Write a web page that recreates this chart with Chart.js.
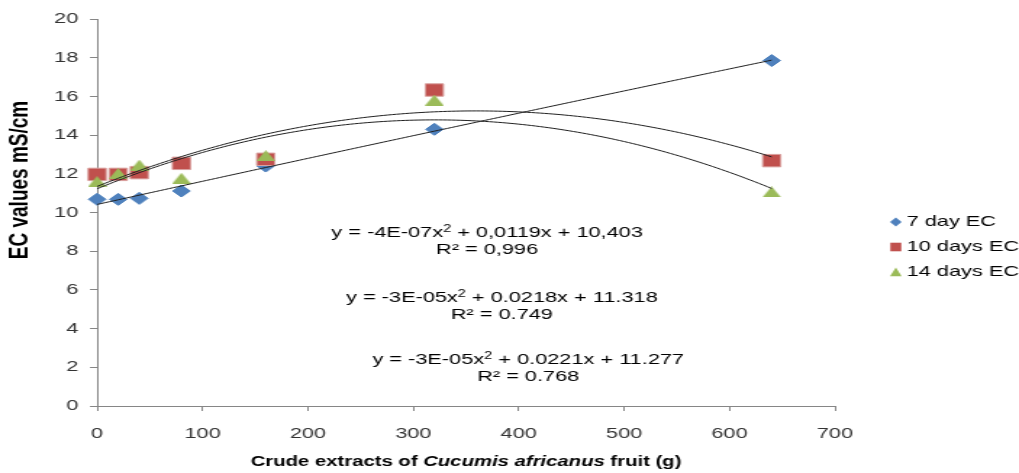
<!DOCTYPE html>
<html><head><meta charset="utf-8">
<script src="https://cdn.jsdelivr.net/npm/chart.js@4.4.1/dist/chart.umd.min.js"></script>
<style>
html,body{margin:0;padding:0;background:#fff;overflow:hidden;}
#c{display:block;width:1019px !important;height:473px !important;}
</style></head><body>
<canvas id="c" width="703" height="473" style="width:1019px;height:473px;display:block"></canvas>
<script>
// ---- data ----
const extractDoses = [0, 20, 40, 80, 160, 320, 640];
const ec7Days  = [10.68, 10.68, 10.73, 11.11, 12.40, 14.30, 17.85];
const ec10Days = [11.97, 11.97, 12.06, 12.54, 12.75, 16.33, 12.68];
const ec14Days = [11.60, 12.02, 12.45, 11.77, 12.94, 15.81, 11.06];
const seriesNames = ['7 day EC', '10 days EC', '14 days EC'];
const xTickValues = [0, 100, 200, 300, 400, 500, 600, 700];
const yTickValues = [0, 2, 4, 6, 8, 10, 12, 14, 16, 18, 20];
const equationParts = [
  ['y = -4E-07x', '2', ' + 0,0119x + 10,403'],
  ['y = -3E-05x', '2', ' + 0.0218x + 11.318'],
  ['y = -3E-05x', '2', ' + 0.0221x + 11.277']
];
const rSquaredTexts = ['R\u00B2 = 0,996', 'R\u00B2 = 0.749', 'R\u00B2 = 0.768'];
const xAxisTitleParts = [['Crude extracts of ', false], ['Cucumis africanus', true], [' fruit (g)', false]];
const yAxisTitle = 'EC values mS/cm';

// ---- styles ----
const COLORS = ['#4F81BD', '#C0504D', '#9BBB59'];
const BORDERS = ['#4A7EBB', '#D9A09E', '#9BBB59'];
const FONT = '"Liberation Sans", Arial, sans-serif';

// quadratic least squares fit derived from the data arrays
function fitQuadratic(xs, ys) {
  let S = [0,0,0,0,0], T = [0,0,0];
  for (let i = 0; i < xs.length; i++) {
    let p = 1;
    for (let k = 0; k < 5; k++) { S[k] += p; if (k < 3) T[k] += p * ys[i]; p *= xs[i]; }
  }
  const M = [[S[0],S[1],S[2],T[0]],[S[1],S[2],S[3],T[1]],[S[2],S[3],S[4],T[2]]];
  for (let c = 0; c < 3; c++) {
    for (let r = c + 1; r < 3; r++) {
      const f = M[r][c] / M[c][c];
      for (let k = c; k < 4; k++) M[r][k] -= f * M[c][k];
    }
  }
  const b = [0,0,0];
  for (let r = 2; r >= 0; r--) {
    let v = M[r][3];
    for (let k = r + 1; k < 3; k++) v -= M[r][k] * b[k];
    b[r] = v / M[r][r];
  }
  return b;
}
function trendPoints(xs, ys) {
  const b = fitQuadratic(xs, ys);
  const pts = [];
  const xmax = Math.max(...xs);
  for (let x = 0; x <= xmax; x += 4) pts.push({x, y: b[0] + b[1]*x + b[2]*x*x});
  return pts;
}

function triangleImage(w, h, fill) {
  const cv = document.createElement('canvas');
  cv.width = w; cv.height = h;
  const g = cv.getContext('2d');
  g.fillStyle = fill;
  g.beginPath(); g.moveTo(w/2, 0); g.lineTo(w, h); g.lineTo(0, h); g.closePath(); g.fill();
  return cv;
}

const seriesValues = [ec7Days, ec10Days, ec14Days];
const pointStyles = ['rectRot', 'rect', triangleImage(13, 11, COLORS[2])];
const pointRadii = [6, 8.8, 7];
const drawOrder = [3, 2, 1];

const datasets = [];
seriesValues.forEach((vals, i) => {
  datasets.push({
    type: 'scatter', label: seriesNames[i] + ' trend',
    data: trendPoints(extractDoses, vals),
    showLine: true, borderColor: '#1f1f1f', borderWidth: 1, pointRadius: 0,
    tension: 0, order: 0, clip: false
  });
});
seriesValues.forEach((vals, i) => {
  datasets.push({
    type: 'scatter', label: seriesNames[i],
    data: extractDoses.map((x, j) => ({x, y: vals[j]})),
    pointStyle: pointStyles[i], pointRadius: pointRadii[i],
    backgroundColor: COLORS[i], borderColor: BORDERS[i], borderWidth: 1,
    order: drawOrder[i], clip: false
  });
});

const overlay = {
  id: 'overlay',
  afterDraw(chart) {
    const ctx = chart.ctx, a = chart.chartArea;
    const xs = chart.scales.x, ys = chart.scales.y;
    ctx.save();
    ctx.fillStyle = '#000';
    // y axis title
    ctx.save();
    ctx.translate(13.8, 180);
    ctx.rotate(-Math.PI / 2);
    ctx.font = 'bold 19px ' + FONT;
    ctx.textAlign = 'center'; ctx.textBaseline = 'middle';
    ctx.fillText(yAxisTitle, 0, 0);
    ctx.restore();
    // x axis title (mixed italic)
    const fonts = xAxisTitleParts.map(p => (p[1] ? 'italic bold 14px ' : 'bold 14px ') + FONT);
    let total = 0;
    const widths = xAxisTitleParts.map((p, i) => { ctx.font = fonts[i]; const w = ctx.measureText(p[0]).width; total += w; return w; });
    let cx = (a.left + a.right) / 2 - total / 2;
    ctx.textBaseline = 'middle'; ctx.textAlign = 'left';
    xAxisTitleParts.forEach((p, i) => { ctx.font = fonts[i]; ctx.fillText(p[0], cx, 462); cx += widths[i]; });
    // equations (anchored in data units)
    const eqAnchors = [[370, 8.94, 8.06], [384, 5.58, 4.70], [409, 2.38, 1.50]];
    equationParts.forEach((parts, i) => {
      const px = xs.getPixelForValue(eqAnchors[i][0]);
      const py1 = ys.getPixelForValue(eqAnchors[i][1]);
      const py2 = ys.getPixelForValue(eqAnchors[i][2]);
      const big = '15px ' + FONT, small = '10px ' + FONT;
      ctx.font = big; const w0 = ctx.measureText(parts[0]).width; const w2 = ctx.measureText(parts[2]).width;
      ctx.font = small; const w1 = ctx.measureText(parts[1]).width;
      let x0 = px - (w0 + w1 + w2) / 2;
      ctx.textAlign = 'left'; ctx.textBaseline = 'middle';
      ctx.font = big; ctx.fillText(parts[0], x0, py1);
      ctx.font = small; ctx.fillText(parts[1], x0 + w0, py1 - 4);
      ctx.font = big; ctx.fillText(parts[2], x0 + w0 + w1, py1);
      ctx.textAlign = 'center';
      ctx.fillText(rSquaredTexts[i], px, py2);
    });
    // legend
    const lx = a.right + 42, ty = [222, 247, 272];
    seriesNames.forEach((name, i) => {
      const y = ty[i];
      ctx.fillStyle = COLORS[i];
      ctx.beginPath();
      if (i === 0) { ctx.moveTo(lx, y - 4.5); ctx.lineTo(lx + 4, y); ctx.lineTo(lx, y + 4.5); ctx.lineTo(lx - 4, y); }
      else if (i === 1) { ctx.rect(lx - 3.8, y - 4.3, 7.6, 8.6); }
      else { ctx.moveTo(lx, y - 4.5); ctx.lineTo(lx + 4, y + 4.2); ctx.lineTo(lx - 4, y + 4.2); }
      ctx.closePath(); ctx.fill();
      ctx.fillStyle = '#000';
      ctx.font = '15px ' + FONT; ctx.textAlign = 'left'; ctx.textBaseline = 'middle';
      ctx.fillText(name, lx + 7.5, y);
    });
    ctx.restore();
  }
};

new Chart(document.getElementById('c'), {
  type: 'scatter',
  data: { datasets },
  options: {
    responsive: false, animation: false,
    layout: { padding: { left: 0, right: 127, top: 19, bottom: 0 } },
    plugins: { legend: { display: false }, tooltip: { enabled: false } },
    scales: {
      x: {
        type: 'linear', min: 0, max: 700,
        afterBuildTicks: s => { s.ticks = xTickValues.map(v => ({value: v})); },
        ticks: { font: { family: FONT, size: 15 }, color: '#333', padding: 14, maxRotation: 0 },
        grid: { drawOnChartArea: false, drawTicks: true, tickLength: 5, color: '#868686' },
        border: { color: '#868686' },
        afterFit: s => { s.height = 67; }
      },
      y: {
        type: 'linear', min: 0, max: 20,
        afterBuildTicks: s => { s.ticks = yTickValues.map(v => ({value: v})); },
        ticks: { font: { family: FONT, size: 15 }, color: '#333', padding: 8 },
        grid: { drawOnChartArea: false, drawTicks: true, tickLength: 5, color: '#868686' },
        border: { color: '#868686' },
        afterFit: s => { s.width = 67; }
      }
    }
  },
  plugins: [overlay]
});
</script>
</body></html>
